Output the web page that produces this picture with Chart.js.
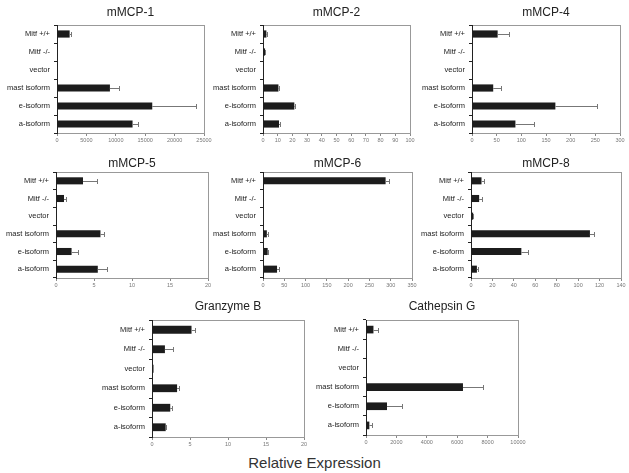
<!DOCTYPE html>
<html>
<head>
<meta charset="utf-8">
<script src="https://cdn.jsdelivr.net/npm/chart.js@4/dist/chart.umd.min.js"></script>
<style>
  html, body { margin: 0; padding: 0; background: #fff; }
  #stage { position: relative; width: 629px; height: 473px; overflow: hidden; }
  #stage canvas { position: absolute; }
  #xlabel {
    position: absolute; left: 0; width: 629px; top: 454px; line-height: 17px;
    text-align: center; font: 15px "Liberation Sans", Arial, sans-serif; color: #333;
  }
</style>
</head>
<body>
<div id="stage"><div id="xlabel">Relative Expression</div></div>
<script>
// ---- data ----
const categories = ['Mitf +/+', 'Mitf -/-', 'vector', 'mast isoform', 'e-isoform', 'a-isoform'];

const titles = ['mMCP-1', 'mMCP-2', 'mMCP-4', 'mMCP-5', 'mMCP-6', 'mMCP-8', 'Granzyme B', 'Cathepsin G'];
const axisMax  = [25000, 100, 300, 20, 350, 140, 20, 10000];
const axisStep = [5000, 10, 50, 5, 50, 20, 5, 2000];

const mcp1Values = [2150, 0, 0, 9000, 16200, 12850];
const mcp1Errors = [250, 0, 0, 1550, 7450, 900];
const mcp2Values = [2.3, 1.4, 0, 10.5, 21.3, 10.9];
const mcp2Errors = [0.3, 0.2, 0, 0.6, 0.8, 1.0];
const mcp4Values = [52, 0.8, 0.6, 43, 169, 88];
const mcp4Errors = [22, 0, 0, 15, 85, 38];
const mcp5Values = [3.55, 1.05, 0, 5.85, 2.05, 5.5];
const mcp5Errors = [1.85, 0.2, 0, 0.45, 0.8, 1.2];
const mcp6Values = [288, 0.8, 0, 9, 11, 33];
const mcp6Errors = [8, 0, 0, 2, 1.5, 4];
const mcp8Values = [9.8, 7.6, 2, 111, 47, 5.5];
const mcp8Errors = [2.2, 2.4, 0.3, 4, 6.5, 1.2];
const granzymeValues = [5.2, 1.7, 0.2, 3.3, 2.4, 1.8];
const granzymeErrors = [0.4, 1.1, 0, 0.3, 0.2, 0.1];
const cathepsinValues = [490, 0, 0, 6380, 1380, 220];
const cathepsinErrors = [330, 0, 0, 1350, 1000, 160];

const seriesValues = [mcp1Values, mcp2Values, mcp4Values, mcp5Values, mcp6Values, mcp8Values, granzymeValues, cathepsinValues];
const seriesErrors = [mcp1Errors, mcp2Errors, mcp4Errors, mcp5Errors, mcp6Errors, mcp8Errors, granzymeErrors, cathepsinErrors];

// ---- layout: plot box [left, top, right, bottom] and title gap per panel ----
const plotBoxes = [
  [57, 25, 204, 133], [263, 25, 410, 133], [472, 25, 620, 133],
  [56, 172, 208, 278], [263, 172, 412, 278], [471, 172, 621, 278],
  [152, 320, 304, 437], [366, 320, 518, 435]
];
const titleGaps = [12, 12, 12, 8, 8, 8, 13, 13];

const FONT = '"Liberation Sans", Arial, sans-serif';
const Y_W = 58, X_H = 13, PAD_R = 14, TITLE_SIZE = 12;

// whiskers: horizontal line from bar end + small cap
const errorBars = {
  id: 'errorBars',
  afterDatasetsDraw(chart) {
    const ds = chart.data.datasets[0];
    const xs = chart.scales.x;
    const ctx = chart.ctx;
    ctx.save();
    ctx.strokeStyle = '#777';
    ctx.lineWidth = 1;
    chart.getDatasetMeta(0).data.forEach((bar, i) => {
      const e = ds.errors[i];
      if (!e) return;
      const x1 = Math.round(xs.getPixelForValue(ds.data[i] + e)) + 0.5;
      const y = Math.round(bar.y) + 0.5;
      ctx.beginPath();
      ctx.moveTo(bar.x, y);
      ctx.lineTo(x1, y);
      ctx.moveTo(x1, y - 2.5);
      ctx.lineTo(x1, y + 2.5);
      ctx.stroke();
    });
    ctx.restore();
  }
};

// thin gray frame round the plot, black left axis
const plotFrame = {
  id: 'plotFrame',
  beforeDatasetsDraw(chart) {
    const { left, top, right, bottom } = chart.chartArea;
    const ctx = chart.ctx;
    ctx.save();
    ctx.lineWidth = 1;
    ctx.strokeStyle = '#999';
    ctx.strokeRect(Math.round(left) + 0.5, Math.round(top) + 0.5,
      Math.round(right - left), Math.round(bottom - top));
    ctx.strokeStyle = '#222';
    ctx.beginPath();
    ctx.moveTo(Math.round(left) + 0.5, Math.round(top));
    ctx.lineTo(Math.round(left) + 0.5, Math.round(bottom) + 1);
    ctx.stroke();
    ctx.restore();
  }
};

const stage = document.getElementById('stage');

titles.forEach((title, k) => {
  const [l, t, r, b] = plotBoxes[k];
  const gap = titleGaps[k];
  const titleH = gap + 10;
  const w = Y_W + (r - l) + PAD_R;
  const h = titleH + (b - t) + X_H;

  const cv = document.createElement('canvas');
  cv.width = w;
  cv.height = h;
  cv.style.left = (l - Y_W) + 'px';
  cv.style.top = (t - titleH) + 'px';
  stage.appendChild(cv);

  new Chart(cv, {
    type: 'bar',
    data: {
      labels: categories,
      datasets: [{
        data: seriesValues[k],
        errors: seriesErrors[k],
        backgroundColor: '#1c1c1c',
        barPercentage: 0.4,
        categoryPercentage: 1
      }]
    },
    options: {
      indexAxis: 'y',
      responsive: false,
      animation: false,
      devicePixelRatio: 1,
      layout: { padding: { left: 0, right: PAD_R, top: 0, bottom: 0 } },
      plugins: {
        legend: { display: false },
        tooltip: { enabled: false },
        title: {
          display: true,
          text: title,
          fullSize: false,
          color: '#222',
          font: { family: FONT, size: TITLE_SIZE, weight: 'normal', lineHeight: 1.2 },
          padding: { top: titleH - 14.4 - (gap - 7.2), bottom: gap - 7.2 }
        }
      },
      scales: {
        x: {
          min: 0,
          max: axisMax[k],
          afterFit: s => { s.height = X_H; },
          border: { display: false },
          grid: { drawOnChartArea: false, tickLength: 3, color: '#888' },
          ticks: {
            stepSize: axisStep[k],
            autoSkip: false,
            maxRotation: 0,
            padding: 1,
            color: '#777',
            font: { family: FONT, size: 5.5 },
            callback: v => String(v)
          }
        },
        y: {
          afterFit: s => { s.width = Y_W; },
          border: { display: false },
          grid: { drawOnChartArea: false, offset: true, tickLength: 3, color: '#222' },
          ticks: {
            padding: 4,
            color: '#222',
            font: { family: FONT, size: 7.5 }
          }
        }
      }
    },
    plugins: [plotFrame, errorBars]
  });
});
</script>
</body>
</html>
